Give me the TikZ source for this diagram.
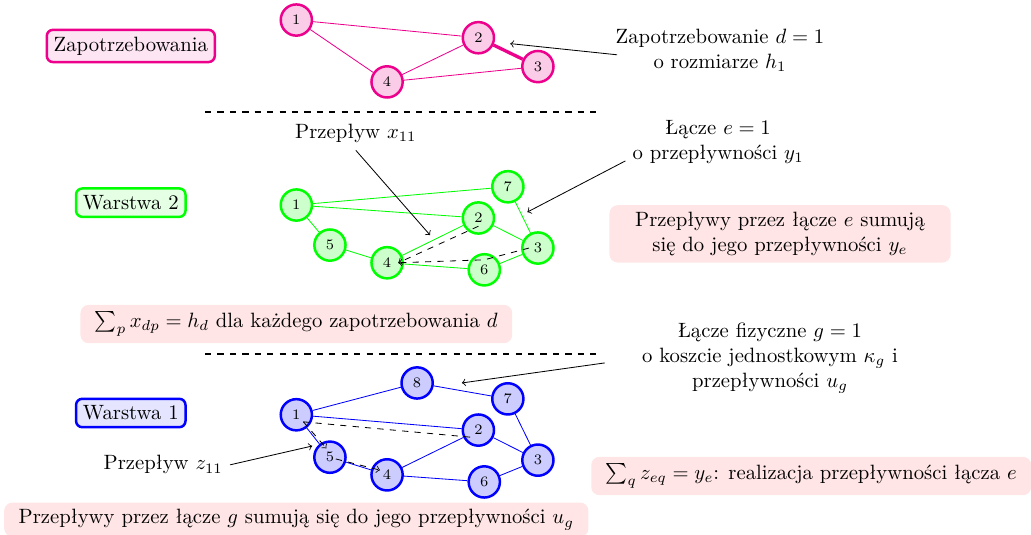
\documentclass[tikz,border=0pt]{standalone}
\usepackage{tikz}
\usepackage{amsmath}
\definecolor{demcol}{RGB}{236,0,140}

\begin{document}
\begin{tikzpicture}[
        vert/.style={circle, draw=#1, fill=#1!20, very thick, minimum size=0.53cm, inner sep=0pt, font=\scriptsize},
        layer/.style={draw=#1, fill=#1!10, very thick, rounded corners=3pt},
        note/.style={fill=red!10, rounded corners=4pt, align=center, inner xsep=7pt},
        flow/.style={dashed}
    ]
        \useasboundingbox (0,0) rectangle (17.5,9.08);
        % zapotrzebowania
        \node [layer=demcol] (lz) at (2.22,8.30) {Zapotrzebowania};
        \node [vert=demcol] (z1) at (5.03,8.74) {1};
        \node [vert=demcol] (z2) at (8.12,8.44) {2};
        \node [vert=demcol] (z3) at (9.13,7.95) {3};
        \node [vert=demcol] (z4) at (6.57,7.69) {4};
        \draw [demcol] (z1) -- (z2) (z1) -- (z4) (z4) -- (z2) (z4) -- (z3);
        \draw [demcol, ultra thick] (z2) -- (z3);
        \node [align=center] (dem) at (12.22,8.23) {Zapotrzebowanie $d=1$\\o rozmiarze $h_1$};
        \coordinate (demend) at (8.66,8.34);
        \draw [->] ([xshift=0.15cm, yshift=-0.08cm]dem.west) -- (demend);
        \draw [thick, dashed] (3.48,7.18) -- (10.15,7.18);
        % warstwa 2
        \node [layer=green] (l2) at (2.22,5.64) {Warstwa 2};
        \node [vert=green] (g1) at (5.03,5.60) {1};
        \node [vert=green] (g2) at (8.12,5.38) {2};
        \node [vert=green] (g3) at (9.13,4.87) {3};
        \node [vert=green] (g4) at (6.57,4.62) {4};
        \node [vert=green] (g5) at (5.60,4.92) {5};
        \node [vert=green] (g6) at (8.22,4.50) {6};
        \node [vert=green] (g7) at (8.62,5.91) {7};
        \draw [green] (g1) -- (g7) (g1) -- (g2) (g1) -- (g5) (g5) -- (g4) (g4) -- (g2)
            (g4) -- (g6) (g2) -- (g3) (g7) -- (g3) (g6) -- (g3);
        \draw [flow, ->] ([yshift=-0.14cm]g2.center) -- ([xshift=0.19cm]g4.center);
        \draw [flow, ->] ([xshift=-0.15cm]g3.center) -- ([yshift=0.17cm]g6.center) -- ([xshift=0.19cm]g4.center);
        \node (fx) at (6.04,6.81) {Przepływ $x_{11}$};
        \coordinate (fxend) at (7.30,5.09);
        \draw [->] (fx.south) -- (fxend);
        \node [align=center] (lnk) at (12.19,6.67) {Łącze $e=1$\\o przepływności $y_1$};
        \coordinate (lnkend) at (8.95,5.48);
        \draw [->] ([yshift=0.17cm]lnk.south west) -- (lnkend);
        \node [note, minimum width=5.79cm] (ne) at (13.24,5.11) {Przepływy przez łącze $e$ sumują\\się do jego przepływności $y_e$};
        \node [note] (nx) at (5.03,3.58) {$\sum_p x_{dp} = h_d$ dla każdego zapotrzebowania $d$};
        \draw [thick, dashed] (3.48,3.07) -- (10.15,3.07);
        % warstwa 1
        \node [layer=blue] (l1) at (2.22,2.07) {Warstwa 1};
        \node [vert=blue] (b1) at (5.03,2.04) {1};
        \node [vert=blue] (b2) at (8.12,1.78) {2};
        \node [vert=blue] (b3) at (9.13,1.27) {3};
        \node [vert=blue] (b4) at (6.57,1.02) {4};
        \node [vert=blue] (b5) at (5.60,1.32) {5};
        \node [vert=blue] (b6) at (8.22,0.90) {6};
        \node [vert=blue] (b7) at (8.62,2.31) {7};
        \node [vert=blue] (b8) at (7.08,2.58) {8};
        \draw [blue] (b1) -- (b8) (b8) -- (b7) (b1) -- (b2) (b1) -- (b5) (b5) -- (b4)
            (b4) -- (b2) (b4) -- (b6) (b2) -- (b3) (b7) -- (b3) (b6) -- (b3);
        \draw [flow] ([shift={(-0.14,-0.12)}]b2.center) -- ([shift={(0.12,-0.12)}]b1.center);
        \draw [flow, ->] ([shift={(0.12,-0.12)}]b1.center) -- ([shift={(-0.06,0.15)}]b5.center);
        \draw [flow, ->] ([shift={(0.1,-0.03)}]b5.center) -- ([shift={(-0.12,0.08)}]b4.center);
        \node (fz) at (2.77,1.19) {Przepływ $z_{11}$};
        \coordinate (fzend) at (5.30,1.51);
        \draw [->] (fz.east) -- (fzend);
        \node [align=center] (phy) at (13.07,3.0) {Łącze fizyczne $g=1$\\o koszcie jednostkowym $\kappa_g$ i\\przepływności $u_g$};
        \coordinate (phyend) at (7.84,2.58);
        \draw [->] ([xshift=-0.51cm, yshift=-0.08cm]phy.west) -- (phyend);
        \node [note] (nz) at (13.77,1.00) {$\sum_q z_{eq} = y_e$: realizacja przepływności łącza $e$};
        \node [note] (nu) at (5.03,0.26) {Przepływy przez łącze $g$ sumują się do jego przepływności $u_g$};
\end{tikzpicture}
\end{document}
